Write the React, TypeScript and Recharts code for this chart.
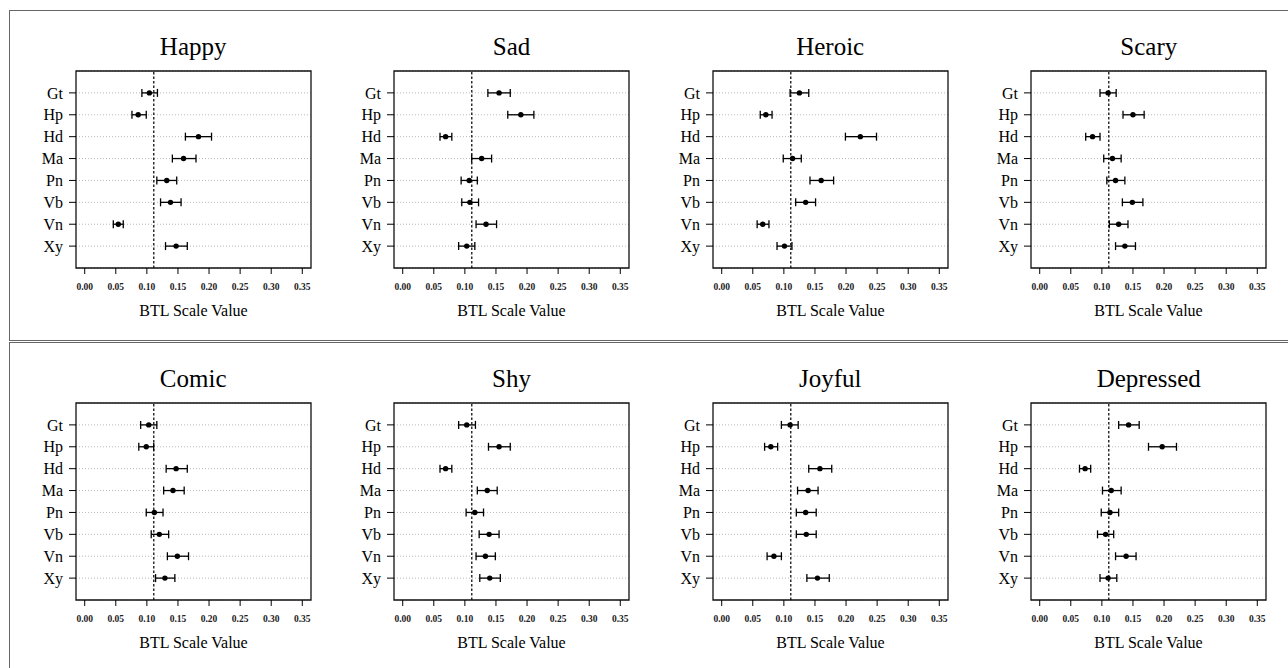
import {
  ScatterChart,
  Scatter,
  XAxis,
  YAxis,
  CartesianGrid,
  ErrorBar,
  ReferenceLine,
  ReferenceArea,
} from 'recharts'

const SERIF = '"Liberation Serif", "Times New Roman", serif'

const instruments = ['Gt', 'Hp', 'Hd', 'Ma', 'Pn', 'Vb', 'Vn', 'Xy']
const xTicks = [0, 0.05, 0.1, 0.15, 0.2, 0.25, 0.3, 0.35]
const chance = 1 / 9

const happyMean = [0.104, 0.086, 0.183, 0.159, 0.132, 0.138, 0.054, 0.147]
const happyLow = [0.092, 0.076, 0.162, 0.141, 0.116, 0.122, 0.046, 0.13]
const happyHigh = [0.117, 0.099, 0.204, 0.179, 0.148, 0.155, 0.062, 0.165]

const sadMean = [0.155, 0.19, 0.069, 0.127, 0.107, 0.108, 0.134, 0.103]
const sadLow = [0.137, 0.169, 0.06, 0.111, 0.094, 0.095, 0.118, 0.09]
const sadHigh = [0.173, 0.211, 0.079, 0.143, 0.12, 0.122, 0.151, 0.116]

const heroicMean = [0.125, 0.071, 0.223, 0.114, 0.16, 0.135, 0.066, 0.101]
const heroicLow = [0.11, 0.062, 0.199, 0.099, 0.142, 0.119, 0.057, 0.089]
const heroicHigh = [0.14, 0.081, 0.249, 0.128, 0.18, 0.151, 0.076, 0.113]

const scaryMean = [0.11, 0.15, 0.085, 0.117, 0.122, 0.149, 0.127, 0.137]
const scaryLow = [0.097, 0.134, 0.074, 0.103, 0.108, 0.133, 0.112, 0.122]
const scaryHigh = [0.123, 0.168, 0.097, 0.131, 0.137, 0.166, 0.142, 0.154]

const comicMean = [0.103, 0.099, 0.147, 0.142, 0.112, 0.12, 0.149, 0.129]
const comicLow = [0.09, 0.087, 0.131, 0.127, 0.099, 0.107, 0.133, 0.114]
const comicHigh = [0.116, 0.111, 0.165, 0.16, 0.126, 0.135, 0.167, 0.145]

const shyMean = [0.103, 0.155, 0.069, 0.136, 0.116, 0.139, 0.133, 0.14]
const shyLow = [0.09, 0.138, 0.06, 0.12, 0.102, 0.123, 0.118, 0.124]
const shyHigh = [0.117, 0.173, 0.079, 0.152, 0.13, 0.155, 0.149, 0.157]

const joyfulMean = [0.11, 0.079, 0.158, 0.139, 0.135, 0.136, 0.084, 0.154]
const joyfulLow = [0.096, 0.069, 0.14, 0.122, 0.12, 0.12, 0.073, 0.137]
const joyfulHigh = [0.123, 0.09, 0.177, 0.155, 0.152, 0.152, 0.096, 0.173]

const depressedMean = [0.143, 0.197, 0.073, 0.115, 0.113, 0.106, 0.139, 0.11]
const depressedLow = [0.127, 0.175, 0.064, 0.101, 0.099, 0.093, 0.122, 0.097]
const depressedHigh = [0.16, 0.22, 0.082, 0.131, 0.127, 0.119, 0.155, 0.124]

const panels = [
  { title: 'Happy', mean: happyMean, low: happyLow, high: happyHigh },
  { title: 'Sad', mean: sadMean, low: sadLow, high: sadHigh },
  { title: 'Heroic', mean: heroicMean, low: heroicLow, high: heroicHigh },
  { title: 'Scary', mean: scaryMean, low: scaryLow, high: scaryHigh },
  { title: 'Comic', mean: comicMean, low: comicLow, high: comicHigh },
  { title: 'Shy', mean: shyMean, low: shyLow, high: shyHigh },
  { title: 'Joyful', mean: joyfulMean, low: joyfulLow, high: joyfulHigh },
  { title: 'Depressed', mean: depressedMean, low: depressedLow, high: depressedHigh },
]

// plot-area geometry
const PLOT_W = 235
const PLOT_H = 197
const Y_AXIS_W = 70
const X_AXIS_H = 50
const TOP_M = 5
const colX = [75.7, 394, 712.7, 1031.3]
const rowY = [70.7, 403]
const X_DOMAIN: [number, number] = [-0.014, 0.364]

function Dot(props: any) {
  const { cx, cy } = props
  if (cx == null || cy == null) return null
  return <circle cx={cx} cy={cy} r={2.7} fill="#000" />
}

function Panel({ title, mean, low, high, left, top }: any) {
  const data = instruments.map((name, i) => ({
    name,
    pos: i + 1,
    v: mean[i],
    err: [mean[i] - low[i], high[i] - mean[i]],
  }))

  return (
    <>
      <div
        style={{
          position: 'absolute',
          left,
          top: top - 39,
          width: PLOT_W,
          textAlign: 'center',
          fontFamily: SERIF,
          fontSize: 25,
          lineHeight: '30px',
          color: '#000',
        }}
      >
        {title}
      </div>
      <div style={{ position: 'absolute', left: left - Y_AXIS_W, top: top - TOP_M }}>
        <ScatterChart
          width={Y_AXIS_W + PLOT_W + 5}
          height={TOP_M + PLOT_H + X_AXIS_H}
          margin={{ top: TOP_M, right: 5, bottom: 0, left: 0 }}
        >
          <CartesianGrid
            vertical={false}
            stroke="#b8b8b8"
            strokeDasharray="1 2"
            strokeWidth={1}
          />
          <XAxis
            type="number"
            dataKey="v"
            domain={X_DOMAIN}
            allowDataOverflow
            ticks={xTicks}
            interval={0}
            tickFormatter={(v: number) => v.toFixed(2)}
            axisLine={false}
            tickLine={{ stroke: '#000', strokeWidth: 1 }}
            tickSize={6}
            tickMargin={9.5}
            height={X_AXIS_H}
            tick={{ fontSize: 9.5, fontWeight: 'bold', fill: '#222', fontFamily: SERIF }}
            label={{
              value: 'BTL Scale Value',
              position: 'insideBottom',
              offset: 2,
              fontSize: 16,
              fill: '#000',
              fontFamily: SERIF,
            }}
          />
          <YAxis
            type="number"
            dataKey="pos"
            domain={[0, 9]}
            allowDataOverflow
            reversed
            ticks={[1, 2, 3, 4, 5, 6, 7, 8]}
            interval={0}
            tickFormatter={(p: number) => instruments[p - 1] ?? ''}
            axisLine={false}
            tickLine={{ stroke: '#000', strokeWidth: 1 }}
            tickSize={7}
            tickMargin={6}
            width={Y_AXIS_W}
            tick={{ fontSize: 16, fill: '#000', fontFamily: SERIF }}
          />
          <ReferenceArea
            x1={X_DOMAIN[0]}
            x2={X_DOMAIN[1]}
            y1={0}
            y2={9}
            fill="none"
            fillOpacity={0}
            stroke="#111"
            strokeWidth={1.3}
            ifOverflow="visible"
          />
          <ReferenceLine
            x={chance}
            stroke="#111"
            strokeWidth={1.3}
            strokeDasharray="2.5 2"
          />
          <Scatter data={data} shape={<Dot />} isAnimationActive={false}>
            <ErrorBar
              dataKey="err"
              direction="x"
              width={4}
              stroke="#000"
              strokeWidth={1.3}
              isAnimationActive={false}
            />
          </Scatter>
        </ScatterChart>
      </div>
    </>
  )
}

export default function App() {
  return (
    <div
      style={{
        position: 'absolute',
        left: 0,
        top: 0,
        width: 1288,
        height: 668,
        overflow: 'hidden',
        background: '#fff',
      }}
    >
      <div
        style={{
          position: 'absolute',
          left: 9,
          top: 9.5,
          width: 1300,
          height: 331,
          border: '1.5px solid #666',
          boxSizing: 'border-box',
        }}
      />
      <div
        style={{
          position: 'absolute',
          left: 9,
          top: 342,
          width: 1300,
          height: 400,
          border: '1.5px solid #666',
          boxSizing: 'border-box',
        }}
      />
      {panels.map((p, i) => (
        <Panel
          key={p.title}
          {...p}
          left={colX[i % 4]}
          top={rowY[Math.floor(i / 4)]}
        />
      ))}
    </div>
  )
}
